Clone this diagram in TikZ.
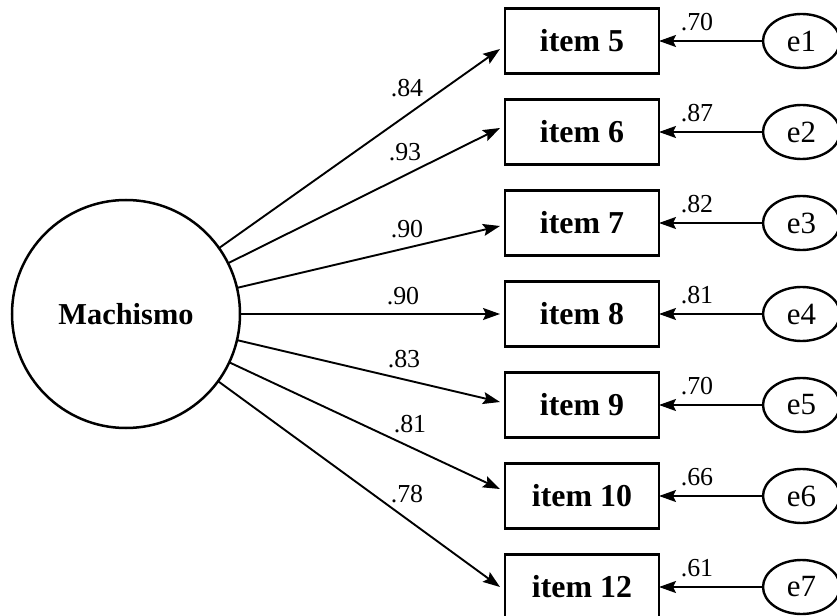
\documentclass[tikz,border=0pt]{standalone}
\usepackage{fontspec}
\setmainfont{Liberation Serif}
\usetikzlibrary{positioning}
\usetikzlibrary{shapes}
\usetikzlibrary{arrows.meta}
\tikzset{
	every node/.style={outer sep=0pt, inner sep=2bp},
	latent/.style={circle, draw, line width=2.5bp, minimum size=228bp, font=\fontsize{30.5}{36}\selectfont\bfseries},
	item/.style={rectangle, draw, line width=2.8bp, minimum width=154bp, minimum height=65bp, font=\fontsize{32}{38}\selectfont\bfseries},
	error/.style={ellipse, draw, line width=2.4bp, minimum width=77bp, minimum height=54bp, font=\fontsize{31}{36}\selectfont},
	coef/.style={font=\fontsize{26}{30}\selectfont},
	load/.style={-{Stealth[length=17bp, width=12bp, inset=3bp]}, line width=1.9bp}
}

\begin{document}
\begin{tikzpicture}[x=1bp, y=1bp, node distance = 26bp and 104bp]
	\useasboundingbox (0,0) rectangle (837,-616);
	
	% Factor
	\node (M) [latent] at (126,-314) {Machismo};
	
	% Items
	\node (i8) [item, right = 265bp of M] {item 8};
	\node (i7) [item, above = of i8] {item 7};
	\node (i6) [item, above = of i7] {item 6};
	\node (i5) [item, above = of i6] {item 5};
	\node (i9) [item, below = of i8] {item 9};
	\node (i10) [item, below = of i9] {item 10};
	\node (i12) [item, below = of i10] {item 12};
	
	% Errors
	\node (e1) [error, right = of i5] {e1};
	\node (e2) [error, right = of i6] {e2};
	\node (e3) [error, right = of i7] {e3};
	\node (e4) [error, right = of i8] {e4};
	\node (e5) [error, right = of i9] {e5};
	\node (e6) [error, right = of i10] {e6};
	\node (e7) [error, right = of i12] {e7};
	
	% Loadings
	\draw[load] (M) -- ([xshift=-5bp, yshift=-8bp]i5.west);
	\draw[load] (M) -- ([xshift=-5bp, yshift=4bp]i6.west);
	\draw[load] (M) -- ([xshift=-5bp, yshift=-3bp]i7.west);
	\draw[load] (M) -- ([xshift=-5bp]i8.west);
	\draw[load] (M) -- ([xshift=-5bp, yshift=3bp]i9.west);
	\draw[load] (M) -- ([xshift=-5bp, yshift=7bp]i10.west);
	\draw[load] (M) -- ([xshift=-5bp]i12.west);
	
	\node (l5) [coef] at (407,-88) {.84};
	\node (l6) [coef] at (405,-152) {.93};
	\node (l7) [coef] at (407,-229) {.90};
	\node (l8) [coef] at (403,-296) {.90};
	\node (l9) [coef] at (404,-359) {.83};
	\node (l10) [coef] at (410,-424) {.81};
	\node (l12) [coef] at (407,-494) {.78};
	
	% Error paths
	\draw[load] (e1) -- node[coef, pos=.635, above=8bp] (c1) {.70} (i5);
	\draw[load] (e2) -- node[coef, pos=.635, above=8bp] (c2) {.87} (i6);
	\draw[load] (e3) -- node[coef, pos=.635, above=8bp] (c3) {.82} (i7);
	\draw[load] (e4) -- node[coef, pos=.635, above=8bp] (c4) {.81} (i8);
	\draw[load] (e5) -- node[coef, pos=.635, above=8bp] (c5) {.70} (i9);
	\draw[load] (e6) -- node[coef, pos=.635, above=8bp] (c6) {.66} (i10);
	\draw[load] (e7) -- node[coef, pos=.635, above=8bp] (c7) {.61} (i12);
	
\end{tikzpicture}
\end{document}
